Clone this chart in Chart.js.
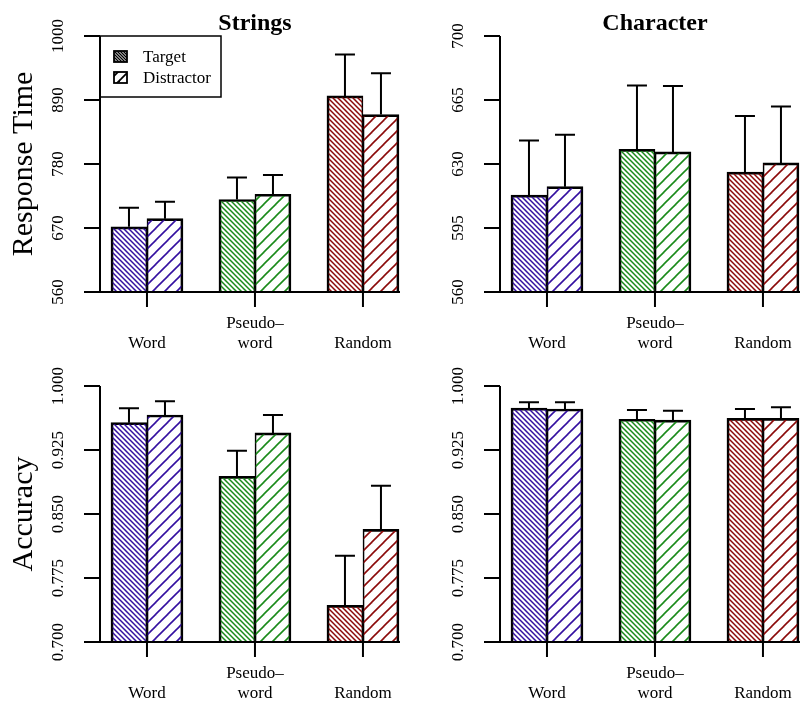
<!DOCTYPE html>
<html>
<head>
<meta charset="utf-8">
<script src="https://cdn.jsdelivr.net/npm/chart.js@4.4.1/dist/chart.umd.min.js"></script>
<style>
  html, body { margin: 0; padding: 0; background: #fff; }
  #wrap { position: relative; width: 800px; height: 702px; overflow: hidden; }
  canvas { position: absolute; }
</style>
</head>
<body>
<div id="wrap">
  <canvas id="rtStrings" width="400" height="350" style="left:0;top:0"></canvas>
  <canvas id="rtChar" width="400" height="350" style="left:400px;top:0"></canvas>
  <canvas id="accStrings" width="400" height="352" style="left:0;top:350px"></canvas>
  <canvas id="accChar" width="400" height="352" style="left:400px;top:350px"></canvas>
</div>
<script>
// categories and series
const categories = ['Word', ['Pseudo–', 'word'], 'Random'];
const seriesNames = ['Target', 'Distractor'];
const groupColors = ['#3410a0', '#1a8a1a', '#8b0a0a'];

// response time, strings
const rtStringsTarget = [672, 719, 897];
const rtStringsTargetErr = [33, 38, 71];
const rtStringsDistr = [686, 728, 865];
const rtStringsDistrErr = [29, 33, 71];

// response time, character
const rtCharTarget = [613, 638, 625.6];
const rtCharTargetErr = [29.8, 34.9, 30.7];
const rtCharDistr = [617.6, 636.6, 630.6];
const rtCharDistrErr = [28.4, 36.1, 30.8];

// accuracy, strings
const accStringsTarget = [0.957, 0.894, 0.743];
const accStringsTargetErr = [0.017, 0.030, 0.058];
const accStringsDistr = [0.966, 0.945, 0.832];
const accStringsDistrErr = [0.016, 0.021, 0.051];

// accuracy, character
const accCharTarget = [0.974, 0.961, 0.962];
const accCharTargetErr = [0.007, 0.011, 0.011];
const accCharDistr = [0.973, 0.960, 0.962];
const accCharDistrErr = [0.008, 0.011, 0.013];

// y ticks
const rtStringsTicks = [560, 670, 780, 890, 1000];
const rtCharTicks = [560, 595, 630, 665, 700];
const accTicks = [0.700, 0.775, 0.850, 0.925, 1.000];
const rtStringsTickLabels = ['560', '670', '780', '890', '1000'];
const rtCharTickLabels = ['560', '595', '630', '665', '700'];
const accTickLabels = ['0.700', '0.775', '0.850', '0.925', '1.000'];

const SERIF = '"Liberation Serif", "DejaVu Serif", serif';

function makeHatch(color, dir, tile, lines, lw) {
  const c = document.createElement('canvas');
  c.width = tile; c.height = tile;
  const g = c.getContext('2d');
  g.strokeStyle = color;
  g.lineWidth = lw;
  const step = tile / lines;
  for (let k = -lines; k <= lines; k++) {
    const o = k * step;
    g.beginPath();
    if (dir === 'down') { g.moveTo(o - 2, -2); g.lineTo(o + tile + 2, tile + 2); }
    else { g.moveTo(o - 2, tile + 2); g.lineTo(o + tile + 2, -2); }
    g.stroke();
  }
  return g.createPattern(c, 'repeat');
}

const densePats = groupColors.map(c => makeHatch(c, 'down', 10, 2, 1.5));
const sparsePats = groupColors.map(c => makeHatch(c, 'up', 12, 1, 1.6));
const legendPats = [makeHatch('#000', 'down', 6, 2, 1.4), makeHatch('#000', 'up', 10, 1, 1.8)];

const rStyle = {
  id: 'rStyle',
  afterDatasetsDraw(chart) {
    const o = chart.options.plugins.rStyle;
    const ctx = chart.ctx;
    const y = chart.scales.y;
    ctx.save();
    ctx.strokeStyle = '#000';
    ctx.lineWidth = 2;
    chart.data.datasets.forEach((ds, di) => {
      const meta = chart.getDatasetMeta(di);
      meta.data.forEach((el, i) => {
        const top = y.getPixelForValue(ds.data[i].y + o.errs[di][i]);
        ctx.beginPath();
        ctx.moveTo(el.x, el.y);
        ctx.lineTo(el.x, top);
        ctx.moveTo(el.x - 10, top);
        ctx.lineTo(el.x + 10, top);
        ctx.stroke();
      });
    });
    ctx.restore();
  },
  afterDraw(chart) {
    const o = chart.options.plugins.rStyle;
    const ctx = chart.ctx;
    const area = chart.chartArea;
    const x = chart.scales.x;
    const y = chart.scales.y;
    const yMin = y.getPixelForValue(o.ticks[0]);
    const yMax = y.getPixelForValue(o.ticks[o.ticks.length - 1]);
    ctx.save();
    ctx.strokeStyle = '#000';
    ctx.fillStyle = '#000';
    ctx.lineWidth = 2;

    // y axis, R style
    ctx.beginPath();
    ctx.moveTo(area.left, yMin);
    ctx.lineTo(area.left, yMax);
    o.ticks.forEach(t => {
      const py = y.getPixelForValue(t);
      ctx.moveTo(area.left - 16, py);
      ctx.lineTo(area.left, py);
    });
    // baseline and x ticks
    ctx.moveTo(area.left, yMin);
    ctx.lineTo(area.right, yMin);
    categories.forEach((c, i) => {
      const px = x.getPixelForValue(i + 1);
      ctx.moveTo(px, yMin);
      ctx.lineTo(px, yMin + 15);
    });
    ctx.stroke();

    ctx.font = '17px ' + SERIF;
    ctx.textAlign = 'center';
    ctx.textBaseline = 'alphabetic';
    o.ticks.forEach((t, k) => {
      const py = y.getPixelForValue(t);
      ctx.save();
      ctx.translate(area.left - 37, py);
      ctx.rotate(-Math.PI / 2);
      ctx.fillText(o.labels[k], 0, 0);
      ctx.restore();
    });

    categories.forEach((c, i) => {
      const px = x.getPixelForValue(i + 1);
      const lines = Array.isArray(c) ? c : [c];
      lines.forEach((ln, k) => {
        ctx.fillText(ln, px, yMin + 56 - (lines.length - 1 - k) * 20);
      });
    });

    // title over the middle group
    if (o.title) {
      ctx.font = 'bold 24px ' + SERIF;
      ctx.fillText(o.title, x.getPixelForValue(2), 30);
    }

    if (o.ylabel) {
      ctx.font = '30px ' + SERIF;
      ctx.save();
      ctx.translate(32, (yMin + yMax) / 2);
      ctx.rotate(-Math.PI / 2);
      ctx.fillText(o.ylabel, 0, 0);
      ctx.restore();
    }

    if (o.legend) {
      const lx = area.left, ly = yMax;
      ctx.lineWidth = 1.5;
      ctx.strokeRect(lx, ly, 121, 61);
      ctx.font = '17px ' + SERIF;
      ctx.textAlign = 'left';
      seriesNames.forEach((name, k) => {
        const sy = ly + 15 + k * 21;
        ctx.fillStyle = legendPats[k];
        ctx.fillRect(lx + 14, sy, 13, 11);
        ctx.lineWidth = 1.8;
        ctx.strokeRect(lx + 14, sy, 13, 11);
        ctx.fillStyle = '#000';
        ctx.fillText(name, lx + 43, sy + 11);
      });
    }
    ctx.restore();
  }
};

function buildPanel(id, target, targetErr, distr, distrErr, ticks, labels, title, ylabel, legend) {
  const canvas = document.getElementById(id);
  const toPoints = arr => arr.map((v, i) => ({ x: i + 1, y: v }));
  new Chart(canvas, {
    type: 'bar',
    data: {
      datasets: [
        {
          label: seriesNames[0],
          data: toPoints(target),
          backgroundColor: densePats,
          borderColor: '#000',
          borderWidth: { top: 2, left: 2, right: 1, bottom: 0 },
          base: ticks[0]
        },
        {
          label: seriesNames[1],
          data: toPoints(distr),
          backgroundColor: sparsePats,
          borderColor: '#000',
          borderWidth: { top: 2, left: 1, right: 2, bottom: 0 },
          base: ticks[0]
        }
      ]
    },
    options: {
      responsive: false,
      animation: false,
      devicePixelRatio: 1,
      barThickness: 36,
      layout: { padding: { left: 100, right: 0, top: 36, bottom: canvas.height - 292 } },
      scales: {
        x: {
          type: 'linear', display: false, offset: false, min: 0.565, max: 3.343,
          afterBuildTicks: s => { s.ticks = categories.map((c, i) => ({ value: i + 1 })); }
        },
        y: { display: false, min: ticks[0], max: ticks[ticks.length - 1] }
      },
      plugins: {
        legend: { display: false },
        tooltip: { enabled: false },
        rStyle: { errs: [targetErr, distrErr], ticks: ticks, labels: labels, title: title, ylabel: ylabel, legend: legend }
      }
    },
    plugins: [rStyle]
  });
}

buildPanel('rtStrings', rtStringsTarget, rtStringsTargetErr, rtStringsDistr, rtStringsDistrErr,
  rtStringsTicks, rtStringsTickLabels, 'Strings', 'Response Time', true);
buildPanel('rtChar', rtCharTarget, rtCharTargetErr, rtCharDistr, rtCharDistrErr,
  rtCharTicks, rtCharTickLabels, 'Character', '', false);
buildPanel('accStrings', accStringsTarget, accStringsTargetErr, accStringsDistr, accStringsDistrErr,
  accTicks, accTickLabels, '', 'Accuracy', false);
buildPanel('accChar', accCharTarget, accCharTargetErr, accCharDistr, accCharDistrErr,
  accTicks, accTickLabels, '', '', false);
</script>
</body>
</html>
